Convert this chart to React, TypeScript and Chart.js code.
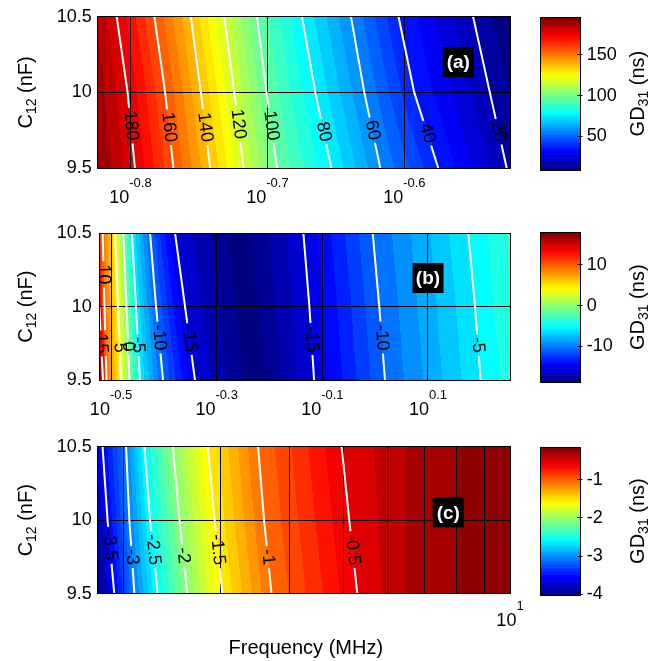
import React, { useEffect, useRef } from 'react';
import { Chart, registerables } from 'chart.js';

Chart.register(...registerables);

const FONT = '"Liberation Sans", Arial, Helvetica, sans-serif';
const LABEL_SIZE = 18;

// C12 rows (nF) at which contour crossings were read
const cRows = [10.5, 10, 9.5];
const cTicks = [9.5, 10, 10.5];

// ---------------- Panel (a) ----------------
const aFreqLimits = [0.15, 0.3];
const aTickExps = [-0.8, -0.7, -0.6];
const aLevels = [180, 160, 140, 120, 100, 80, 60, 40, 20];
const aFreqAt105 = [0.15487, 0.165, 0.17542, 0.18558, 0.19608, 0.21149, 0.22964, 0.24874, 0.28196];
const aFreqAt100 = [0.15773, 0.168, 0.1784, 0.18873, 0.19924, 0.21627, 0.23483, 0.25539, 0.29];
const aFreqAt095 = [0.15968, 0.17036, 0.18122, 0.1917, 0.20279, 0.22216, 0.24123, 0.26591, 0.29834];
const aLabelC = [9.78, 9.77, 9.77, 9.79, 9.78, 9.74, 9.75, 9.73, 9.74];
const aEdgeLeft = [190, 193, 196];
const aEdgeRight = [10, 15, 19];
const aExtraAt105: number[] = [];
const aExtraAt100: number[] = [];
const aExtraAt095: number[] = [];
const aExtraVal: number[] = [];
const aColorLimits = [9, 196];
const aColorTicks = [50, 100, 150];

// ---------------- Panel (b) ----------------
const bFreqLimits = [0.3, 1.8];
const bTickExps = [-0.5, -0.3, -0.1, 0.1];
const bLevels = [15, 10, 5, 0, -5, -10, -15, -15, -10, -5];
const bFreqAt105 = [null, 0.30487, 0.32166, 0.3335, 0.34639, 0.3748, 0.41794, 0.73131, 0.98921, 1.5008];
const bFreqAt100 = [0.3004, 0.30727, 0.3259, 0.33818, 0.35248, 0.38475, 0.43655, 0.75071, 1.0181, 1.54533];
const bFreqAt095 = [0.30527, 0.30997, 0.33018, 0.34263, 0.35868, 0.39667, 0.456, 0.76627, 1.04373, 1.58417];
const bLabelC = [9.75, 10.22, 9.72, 9.73, 9.74, 9.79, 9.78, 9.78, 9.79, 9.74];
const bEdgeLeft = [12, 15.3, 18];
const bEdgeRight = [-2.8, -3.1, -3.5];
const bExtraAt105 = [0.5547];
const bExtraAt100 = [0.5719];
const bExtraAt095 = [0.5922];
const bExtraVal = [-18.7];
const bColorLimits = [-18.8, 18];
const bColorTicks = [-10, 0, 10];

// ---------------- Panel (c) ----------------
const cFreqLimits = [1.8, 10];
const cTickExps = [1];
const cGridFreqs = [2, 3, 4, 5, 6, 7, 8, 9, 10];
const cLevels = [-3.5, -3, -2.5, -2, -1.5, -1, -0.5];
const cFreqAt105 = [1.8366, 2.0254, 2.186, 2.46, 2.8467, 3.5075, 4.9654];
const cFreqAt100 = [1.8753, 2.0535, 2.2385, 2.5297, 2.9274, 3.5961, 5.1254];
const cFreqAt095 = [1.9286, 2.0968, 2.3106, 2.6123, 3.0229, 3.7088, 5.2993];
const cLabelC = [9.83, 9.75, 9.8, 9.76, 9.8, 9.75, 9.8];
const cEdgeLeft = [-3.65, -3.8, -4.0];
const cEdgeRight = [-0.15, -0.15, -0.15];
const cExtraAt105 = [6.5, 8];
const cExtraAt100 = [6.5, 8];
const cExtraAt095 = [6.5, 8];
const cExtraVal = [-0.3, -0.2];
const cColorLimits = [-4.02, -0.15];
const cColorTicks = [-4, -3, -2, -1];

type PanelData = {
  limits: number[]; tickExps: number[]; gridFreqs: number[]; levels: number[];
  fHi: (number | null)[]; fMid: (number | null)[]; fLo: (number | null)[];
  labelC: number[]; edgeLeft: number[]; edgeRight: number[];
  exHi: number[]; exMid: number[]; exLo: number[]; exVal: number[];
  step: number; cLimits: number[]; cTicks: number[]; letter: string; letterAt: number[];
};

const PANELS: PanelData[] = [
  {
    limits: aFreqLimits, tickExps: aTickExps, gridFreqs: aTickExps.map((e) => Math.pow(10, e)), levels: aLevels,
    fHi: aFreqAt105, fMid: aFreqAt100, fLo: aFreqAt095, labelC: aLabelC, edgeLeft: aEdgeLeft, edgeRight: aEdgeRight,
    exHi: aExtraAt105, exMid: aExtraAt100, exLo: aExtraAt095, exVal: aExtraVal,
    step: 5, cLimits: aColorLimits, cTicks: aColorTicks, letter: '(a)', letterAt: [0.275, 10.2],
  },
  {
    limits: bFreqLimits, tickExps: bTickExps, gridFreqs: bTickExps.map((e) => Math.pow(10, e)), levels: bLevels,
    fHi: bFreqAt105, fMid: bFreqAt100, fLo: bFreqAt095, labelC: bLabelC, edgeLeft: bEdgeLeft, edgeRight: bEdgeRight,
    exHi: bExtraAt105, exMid: bExtraAt100, exLo: bExtraAt095, exVal: bExtraVal,
    step: 1, cLimits: bColorLimits, cTicks: bColorTicks, letter: '(b)', letterAt: [1.259, 10.195],
  },
  {
    limits: cFreqLimits, tickExps: cTickExps, gridFreqs: cGridFreqs, levels: cLevels,
    fHi: cFreqAt105, fMid: cFreqAt100, fLo: cFreqAt095, labelC: cLabelC, edgeLeft: cEdgeLeft, edgeRight: cEdgeRight,
    exHi: cExtraAt105, exMid: cExtraAt100, exLo: cExtraAt095, exVal: cExtraVal,
    step: 0.1, cLimits: cColorLimits, cTicks: cColorTicks, letter: '(c)', letterAt: [7.735, 10.054],
  },
];

type Layout = {
  top: number; height: number; areaTop: number; areaBottom: number; areaLeft: number;
  supDy: number; baseDy: number; cbTop: number; cbBottom: number; xTitle: boolean;
};

const LAYOUT: Layout[] = [
  { top: 0, height: 215, areaTop: 15, areaBottom: 168, areaLeft: 97.7, supDy: 15.5, baseDy: 30, cbTop: 14.3, cbBottom: 170, xTitle: false },
  { top: 215, height: 215, areaTop: 12.3, areaBottom: 165.3, areaLeft: 99, supDy: 15.2, baseDy: 29.7, cbTop: 12.7, cbBottom: 167.3, xTitle: false },
  { top: 430, height: 231, areaTop: 10.7, areaBottom: 163.7, areaLeft: 97.7, supDy: 13, baseDy: 27.6, cbTop: 11.7, cbBottom: 165, xTitle: true },
];

const MAIN_W = 540;
const AREA_RIGHT = 510;
const CB_LEFT = 520;
const CB_W = 144;
const CB_AREA_LEFT = 540.7;
const CB_AREA_RIGHT = 580.3;

function jet(t: number): number[] {
  const tt = Math.max(0, Math.min(1, t));
  const c = (x: number) => Math.round(Math.max(0, Math.min(1, x)) * 255);
  return [c(1.5 - Math.abs(4 * tt - 3)), c(1.5 - Math.abs(4 * tt - 2)), c(1.5 - Math.abs(4 * tt - 1))];
}

function rowKnots(p: PanelData, r: number) {
  const fs = [p.fHi, p.fMid, p.fLo][r];
  const ex = [p.exHi, p.exMid, p.exLo][r];
  const k: { lf: number; v: number }[] = [];
  k.push({ lf: Math.log10(p.limits[0]), v: p.edgeLeft[r] });
  p.levels.forEach((lev, i) => {
    const f = fs[i];
    if (f != null) k.push({ lf: Math.log10(f), v: lev });
  });
  ex.forEach((f, i) => k.push({ lf: Math.log10(f), v: p.exVal[i] }));
  k.push({ lf: Math.log10(p.limits[1]), v: p.edgeRight[r] });
  k.sort((a, b) => a.lf - b.lf);
  return k;
}

function interpKnots(k: { lf: number; v: number }[], lf: number) {
  if (lf <= k[0].lf) return k[0].v;
  for (let i = 1; i < k.length; i++) {
    if (lf <= k[i].lf) {
      const a = k[i - 1], b = k[i];
      const t = (lf - a.lf) / (b.lf - a.lf || 1);
      return a.v + t * (b.v - a.v);
    }
  }
  return k[k.length - 1].v;
}

function alignPx(v: number) {
  return Math.round(v + 0.5) - 0.5;
}

function drawField(chart: any, p: PanelData) {
  const ctx: CanvasRenderingContext2D = chart.ctx;
  const { left, right, top, bottom } = chart.chartArea;
  const xs = chart.scales.x, ys = chart.scales.y;
  const dpr = chart.currentDevicePixelRatio || 1;
  const X0 = Math.round(left * dpr), X1 = Math.round(right * dpr);
  const Y0 = Math.round(top * dpr), Y1 = Math.round(bottom * dpr);
  const W = X1 - X0, H = Y1 - Y0;
  if (W <= 0 || H <= 0) return;
  const img = ctx.createImageData(W, H);
  const knots = [0, 1, 2].map((r) => rowKnots(p, r));
  const rowVals = [0, 1, 2].map(() => new Float64Array(W));
  for (let i = 0; i < W; i++) {
    const f = xs.getValueForPixel((X0 + i + 0.5) / dpr);
    const lf = Math.log10(f);
    for (let r = 0; r < 3; r++) rowVals[r][i] = interpKnots(knots[r], lf);
  }
  const [cmin, cmax] = p.cLimits;
  for (let j = 0; j < H; j++) {
    const C = ys.getValueForPixel((Y0 + j + 0.5) / dpr);
    let ra = 1, rb = 0, t = 0;
    if (C >= cRows[1]) { ra = 1; rb = 0; t = (C - cRows[1]) / (cRows[0] - cRows[1]); }
    else { ra = 1; rb = 2; t = (cRows[1] - C) / (cRows[1] - cRows[2]); }
    t = Math.max(0, Math.min(1, t));
    for (let i = 0; i < W; i++) {
      const va = rowVals[ra][i], vb = rowVals[rb][i];
      const v = va + t * (vb - va);
      const vq = Math.floor(v / p.step + 1e-6) * p.step;
      const col = jet((vq - cmin) / (cmax - cmin));
      const idx = (j * W + i) * 4;
      img.data[idx] = col[0];
      img.data[idx + 1] = col[1];
      img.data[idx + 2] = col[2];
      img.data[idx + 3] = 255;
    }
  }
  ctx.putImageData(img, X0, Y0);
}

function labelGeoms(chart: any, p: PanelData) {
  const xs = chart.scales.x, ys = chart.scales.y;
  const ctx: CanvasRenderingContext2D = chart.ctx;
  ctx.save();
  ctx.font = `${LABEL_SIZE}px ${FONT}`;
  const res = p.levels.map((lev, i) => {
    const pts = [
      [p.fHi[i], cRows[0]],
      [p.fMid[i], cRows[1]],
      [p.fLo[i], cRows[2]],
    ].filter((q) => q[0] != null) as number[][];
    const C = p.labelC[i];
    let a = pts[0], b = pts[1];
    for (let s = 0; s < pts.length - 1; s++) {
      if (C <= pts[s][1] && C >= pts[s + 1][1]) { a = pts[s]; b = pts[s + 1]; }
    }
    const ax = xs.getPixelForValue(a[0]), ay = ys.getPixelForValue(a[1]);
    const bx = xs.getPixelForValue(b[0]), by = ys.getPixelForValue(b[1]);
    const t = (a[1] - C) / (a[1] - b[1]);
    const text = String(lev);
    return {
      text,
      cx: ax + t * (bx - ax),
      cy: ay + t * (by - ay),
      ang: Math.atan2(by - ay, bx - ax),
      w: ctx.measureText(text).width,
    };
  });
  ctx.restore();
  return res;
}

function drawVerticalRich(ctx: CanvasRenderingContext2D, parts: { t: string; size: number; dy: number }[], x: number, yc: number) {
  ctx.save();
  let total = 0;
  const widths = parts.map((pt) => {
    ctx.font = `${pt.size}px ${FONT}`;
    const w = ctx.measureText(pt.t).width;
    total += w;
    return w;
  });
  ctx.translate(x, yc);
  ctx.rotate(-Math.PI / 2);
  ctx.fillStyle = '#000';
  ctx.textAlign = 'left';
  ctx.textBaseline = 'alphabetic';
  let cx = -total / 2;
  parts.forEach((pt, i) => {
    ctx.font = `${pt.size}px ${FONT}`;
    ctx.fillText(pt.t, cx, pt.dy);
    cx += widths[i];
  });
  ctx.restore();
}

function makePanel(canvas: HTMLCanvasElement, p: PanelData, L: Layout) {
  const rowsF = [p.fHi, p.fMid, p.fLo];
  const datasets = p.levels.map((lev, i) => ({
    label: String(lev),
    data: cRows
      .map((c, r) => ({ x: rowsF[r][i] as number, y: c }))
      .filter((d) => d.x != null),
    showLine: true,
    borderColor: '#ffffff',
    borderWidth: 2,
    pointRadius: 0,
    pointHoverRadius: 0,
    tension: 0,
    clip: 0,
  }));

  const plugin = {
    id: 'contourField',
    beforeDraw(chart: any) {
      drawField(chart, p);
    },
    beforeDatasetsDraw(chart: any) {
      const ctx: CanvasRenderingContext2D = chart.ctx;
      const g = labelGeoms(chart, p);
      ctx.save();
      ctx.beginPath();
      ctx.rect(0, 0, chart.width, chart.height);
      g.forEach((l) => {
        const hw = l.w / 2 + 3, hh = 8;
        const cs = Math.cos(l.ang), sn = Math.sin(l.ang);
        const corners = [[-hw, -hh], [hw, -hh], [hw, hh], [-hw, hh]].map(([u, v]) => [
          l.cx + u * cs - v * sn,
          l.cy + u * sn + v * cs,
        ]);
        ctx.moveTo(corners[0][0], corners[0][1]);
        for (let k = 1; k < 4; k++) ctx.lineTo(corners[k][0], corners[k][1]);
        ctx.closePath();
      });
      ctx.clip('evenodd');
    },
    afterDatasetsDraw(chart: any) {
      const ctx: CanvasRenderingContext2D = chart.ctx;
      ctx.restore();
      const { left, right, top, bottom } = chart.chartArea;
      const g = labelGeoms(chart, p);
      ctx.save();
      ctx.beginPath();
      ctx.rect(left, top, right - left, bottom - top);
      ctx.clip();
      ctx.fillStyle = '#000';
      ctx.font = `${LABEL_SIZE}px ${FONT}`;
      ctx.textAlign = 'center';
      ctx.textBaseline = 'middle';
      g.forEach((l) => {
        ctx.save();
        ctx.translate(l.cx, l.cy);
        ctx.rotate(l.ang);
        ctx.fillText(l.text, 0, 0);
        ctx.restore();
      });
      ctx.restore();
    },
    afterDraw(chart: any) {
      const ctx: CanvasRenderingContext2D = chart.ctx;
      const { left, right, top, bottom } = chart.chartArea;
      const xs = chart.scales.x, ys = chart.scales.y;
      ctx.save();
      // axes box
      ctx.strokeStyle = '#000';
      ctx.lineWidth = 1;
      const l0 = alignPx(left), r0 = alignPx(right), t0 = alignPx(top), b0 = alignPx(bottom);
      ctx.strokeRect(l0, t0, r0 - l0, b0 - t0);
      // panel letter
      const lx = xs.getPixelForValue(p.letterAt[0]);
      const ly = ys.getPixelForValue(p.letterAt[1]);
      ctx.fillStyle = '#000';
      ctx.fillRect(lx - 15.5, ly - 15, 31, 30);
      ctx.fillStyle = '#fff';
      ctx.font = `bold 19px ${FONT}`;
      ctx.textAlign = 'center';
      ctx.textBaseline = 'middle';
      ctx.fillText(p.letter, lx, ly + 1);
      // x tick labels 10^e
      ctx.fillStyle = '#000';
      ctx.textAlign = 'left';
      ctx.textBaseline = 'middle';
      p.tickExps.forEach((e) => {
        const px = xs.getPixelForValue(Math.pow(10, e));
        const s = String(e);
        ctx.font = `18px ${FONT}`;
        const w1 = ctx.measureText('10').width;
        ctx.font = `13px ${FONT}`;
        const w2 = ctx.measureText(s).width;
        const x0 = px - (w1 + w2) / 2;
        ctx.font = `18px ${FONT}`;
        ctx.fillText('10', x0, bottom + L.baseDy);
        ctx.font = `13px ${FONT}`;
        ctx.fillText(s, x0 + w1, bottom + L.supDy);
      });
      // y title
      drawVerticalRich(ctx, [
        { t: 'C', size: 20, dy: 0 },
        { t: '12', size: 14, dy: 4 },
        { t: ' (nF)', size: 20, dy: 0 },
      ], 31.5, (top + bottom) / 2);
      // x title
      if (L.xTitle) {
        ctx.font = `20px ${FONT}`;
        ctx.textAlign = 'center';
        ctx.textBaseline = 'middle';
        ctx.fillText('Frequency (MHz)', (left + right) / 2 + 2, bottom + 54.5);
      }
      ctx.restore();
    },
  };

  return new Chart(canvas, {
    type: 'scatter',
    data: { datasets: datasets as any },
    options: {
      animation: false,
      responsive: false,
      events: [],
      layout: { autoPadding: false, padding: { top: L.areaTop, right: MAIN_W - AREA_RIGHT, bottom: 0, left: 0 } } as any,
      plugins: { legend: { display: false }, tooltip: { enabled: false }, title: { display: false } },
      scales: {
        x: {
          type: 'logarithmic',
          position: 'bottom',
          min: p.limits[0],
          max: p.limits[1],
          afterBuildTicks: (s: any) => {
            s.ticks = p.gridFreqs.map((v) => ({ value: v }));
          },
          ticks: { display: false },
          grid: { color: '#000', lineWidth: 1, drawTicks: false },
          border: { display: false },
          afterFit: (s: any) => {
            s.height = L.height - L.areaBottom;
          },
        },
        y: {
          type: 'linear',
          position: 'left',
          min: 9.5,
          max: 10.5,
          afterBuildTicks: (s: any) => {
            s.ticks = cTicks.map((v) => ({ value: v }));
          },
          ticks: {
            font: { family: FONT, size: 18 },
            color: '#000',
            padding: L.areaLeft - 91.7,
            callback: (v: any) => String(v),
          },
          grid: { color: '#000', lineWidth: 1, drawTicks: false },
          border: { display: false },
          afterFit: (s: any) => {
            s.width = L.areaLeft;
          },
        },
      },
    } as any,
    plugins: [plugin],
  });
}

function makeColorbar(canvas: HTMLCanvasElement, p: PanelData, L: Layout) {
  const plugin = {
    id: 'colorbar',
    beforeDraw(chart: any) {
      const ctx: CanvasRenderingContext2D = chart.ctx;
      const { left, right } = chart.chartArea;
      const ys = chart.scales.y;
      const [cmin, cmax] = p.cLimits;
      const n = 64;
      for (let i = 0; i < n; i++) {
        const v0 = cmin + ((cmax - cmin) * i) / n;
        const v1 = cmin + ((cmax - cmin) * (i + 1)) / n;
        const y0 = ys.getPixelForValue(v0);
        const y1 = ys.getPixelForValue(v1);
        const col = jet((i + 0.5) / n);
        ctx.fillStyle = `rgb(${col[0]},${col[1]},${col[2]})`;
        ctx.fillRect(left, y1, right - left, y0 - y1 + 0.6);
      }
    },
    afterDraw(chart: any) {
      const ctx: CanvasRenderingContext2D = chart.ctx;
      const { left, right, top, bottom } = chart.chartArea;
      const ys = chart.scales.y;
      ctx.save();
      ctx.strokeStyle = '#000';
      ctx.lineWidth = 1;
      const l0 = alignPx(left), r0 = alignPx(right), t0 = alignPx(top), b0 = alignPx(bottom);
      ctx.strokeRect(l0, t0, r0 - l0, b0 - t0);
      ctx.beginPath();
      p.cTicks.forEach((v) => {
        const y = alignPx(ys.getPixelForValue(v));
        ctx.moveTo(r0 - 3, y);
        ctx.lineTo(r0 + 2, y);
      });
      ctx.stroke();
      drawVerticalRich(ctx, [
        { t: 'GD', size: 20, dy: 0 },
        { t: '31', size: 14, dy: 4 },
        { t: ' (ns)', size: 20, dy: 0 },
      ], 644 - CB_LEFT, (top + bottom) / 2);
      ctx.restore();
    },
  };
  return new Chart(canvas, {
    type: 'scatter',
    data: { datasets: [] },
    options: {
      animation: false,
      responsive: false,
      events: [],
      layout: { autoPadding: false, padding: { top: L.cbTop, bottom: L.height - L.cbBottom, left: CB_AREA_LEFT - CB_LEFT, right: 0 } } as any,
      plugins: { legend: { display: false }, tooltip: { enabled: false } },
      scales: {
        x: { type: 'linear', display: false, min: 0, max: 1 },
        y: {
          type: 'linear',
          position: 'right',
          min: p.cLimits[0],
          max: p.cLimits[1],
          afterBuildTicks: (s: any) => {
            s.ticks = p.cTicks.map((v) => ({ value: v }));
          },
          ticks: {
            font: { family: FONT, size: 18 },
            color: '#000',
            padding: 6.4,
            callback: (v: any) => String(v),
          },
          grid: { display: false, drawTicks: false },
          border: { display: false },
          afterFit: (s: any) => {
            s.width = CB_W - (CB_AREA_RIGHT - CB_LEFT);
          },
        },
      },
    } as any,
    plugins: [plugin],
  });
}

export default function App() {
  const canvases = useRef<(HTMLCanvasElement | null)[]>([]);
  useEffect(() => {
    Chart.defaults.font.family = FONT;
    const charts: Chart[] = [];
    PANELS.forEach((p, i) => {
      const L = LAYOUT[i];
      const m = canvases.current[2 * i];
      const c = canvases.current[2 * i + 1];
      if (m) charts.push(makePanel(m, p, L));
      if (c) charts.push(makeColorbar(c, p, L));
    });
    return () => {
      charts.forEach((ch) => ch.destroy());
    };
  }, []);

  return (
    <div style={{ position: 'absolute', left: 0, top: 0, width: 664, height: 661, background: '#fff', overflow: 'hidden' }}>
      {LAYOUT.map((L, i) => (
        <React.Fragment key={i}>
          <canvas
            ref={(el) => { canvases.current[2 * i] = el; }}
            width={MAIN_W}
            height={L.height}
            style={{ position: 'absolute', left: 0, top: L.top, width: MAIN_W, height: L.height }}
          />
          <canvas
            ref={(el) => { canvases.current[2 * i + 1] = el; }}
            width={CB_W}
            height={L.height}
            style={{ position: 'absolute', left: CB_LEFT, top: L.top, width: CB_W, height: L.height }}
          />
        </React.Fragment>
      ))}
    </div>
  );
}
